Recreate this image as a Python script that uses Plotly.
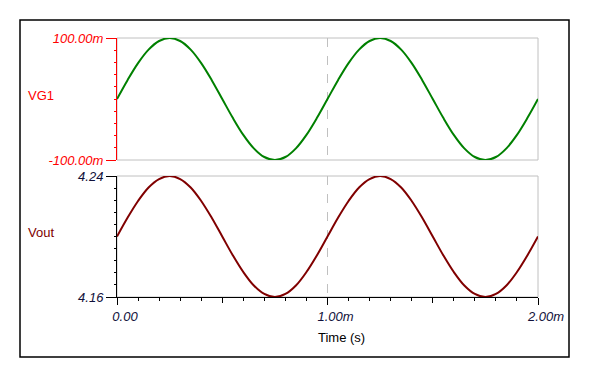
import plotly.graph_objects as go

# ---- data (time in ms, voltages in V) ----
time_ms = [0.00, 0.05, 0.10, 0.15, 0.20, 0.25, 0.30, 0.35, 0.40, 0.45,
           0.50, 0.55, 0.60, 0.65, 0.70, 0.75, 0.80, 0.85, 0.90, 0.95,
           1.00, 1.05, 1.10, 1.15, 1.20, 1.25, 1.30, 1.35, 1.40, 1.45,
           1.50, 1.55, 1.60, 1.65, 1.70, 1.75, 1.80, 1.85, 1.90, 1.95, 2.00]
vg1 = [0.0000, 0.0309, 0.0588, 0.0809, 0.0951, 0.1000, 0.0951, 0.0809, 0.0588, 0.0309,
       0.0000, -0.0309, -0.0588, -0.0809, -0.0951, -0.1000, -0.0951, -0.0809, -0.0588, -0.0309,
       0.0000, 0.0309, 0.0588, 0.0809, 0.0951, 0.1000, 0.0951, 0.0809, 0.0588, 0.0309,
       0.0000, -0.0309, -0.0588, -0.0809, -0.0951, -0.1000, -0.0951, -0.0809, -0.0588, -0.0309, 0.0000]
vout = [4.2000, 4.2124, 4.2235, 4.2324, 4.2380, 4.2400, 4.2380, 4.2324, 4.2235, 4.2124,
        4.2000, 4.1876, 4.1765, 4.1676, 4.1620, 4.1600, 4.1620, 4.1676, 4.1765, 4.1876,
        4.2000, 4.2124, 4.2235, 4.2324, 4.2380, 4.2400, 4.2380, 4.2324, 4.2235, 4.2124,
        4.2000, 4.1876, 4.1765, 4.1676, 4.1620, 4.1600, 4.1620, 4.1676, 4.1765, 4.1876, 4.2000]

x_tickvals = [0.0, 1.0, 2.0]
x_ticktext = ["0.00", "1.00m", "2.00m"]
x_midticks = [0.5, 1.5]
vg1_tickvals = [-0.1, 0.1]
vg1_ticktext = ["-100.00m", "100.00m"]
vout_tickvals = [4.16, 4.24]
vout_ticktext = ["4.16", "4.24"]

W, H = 590, 378
FONT = "Liberation Sans, Arial, sans-serif"
TICKC = "#10103a"
GRAY = "#c0c0c0"
FS = 13

def px_x(p):
    return p / W

def px_y(p):
    return 1 - p / H

fig = go.Figure()
fig.add_trace(go.Scatter(x=time_ms, y=vg1, mode="lines", line=dict(color="#008000", width=2, shape="spline"),
                         xaxis="x", yaxis="y", showlegend=False))
fig.add_trace(go.Scatter(x=time_ms, y=vout, mode="lines", line=dict(color="#800000", width=2, shape="spline"),
                         xaxis="x2", yaxis="y2", showlegend=False))
fig.add_trace(go.Scatter(x=[], y=[], xaxis="x3", yaxis="y2", showlegend=False, hoverinfo="skip"))

xdom = [px_x(117), px_x(538)]
fig.update_layout(
    width=W, height=H, margin=dict(l=0, r=0, t=0, b=0),
    paper_bgcolor="white", plot_bgcolor="white", template="none",
    font=dict(family=FONT, size=FS, color="black"),
    xaxis=dict(domain=xdom, anchor="y", range=[0, 2], showticklabels=False, ticks="",
               showline=False, zeroline=False, showgrid=True, tickmode="array", tickvals=[1.0],
               gridcolor=GRAY, griddash="dash", gridwidth=1, automargin=False),
    yaxis=dict(domain=[px_y(160), px_y(38)], anchor="x", range=[-0.1, 0.1],
               showline=True, linecolor="#ff0000", linewidth=1, zeroline=False, showgrid=False,
               ticks="outside", ticklen=10, tickcolor="#ff0000", tickwidth=1,
               tickmode="array", tickvals=vg1_tickvals, ticktext=vg1_ticktext,
               tickfont=dict(family=FONT, size=FS, color="#ff0000", style="italic"),
               ticklabelstandoff=0,
               minor=dict(ticks="outside", ticklen=2, tickcolor="#ff0000", tickmode="linear",
                          tick0=-0.1, dtick=0.02, showgrid=False),
               automargin=False),
    xaxis2=dict(domain=xdom, anchor="y2", range=[0, 2],
                showline=True, linecolor="black", linewidth=1, zeroline=False,
                showgrid=True, gridcolor=GRAY, griddash="dash", gridwidth=1,
                ticks="outside", ticklen=7, tickcolor="black",
                tickmode="array", tickvals=x_tickvals, ticktext=x_ticktext,
                tickfont=dict(family=FONT, size=FS, color=TICKC, style="italic"),
                ticklabelshift=8,
                minor=dict(ticks="outside", ticklen=3, tickcolor="black", tickmode="linear",
                           tick0=0, dtick=0.1, showgrid=False),
                automargin=False),
    xaxis3=dict(overlaying="x2", anchor="y2", range=[0, 2], showline=False, zeroline=False,
                showgrid=False, ticks="outside", ticklen=5, tickcolor="black",
                tickmode="array", tickvals=x_midticks, showticklabels=False, automargin=False),
    yaxis2=dict(domain=[px_y(297), px_y(176)], anchor="x2", range=[4.16, 4.24],
                showline=True, linecolor="black", linewidth=1, zeroline=False, showgrid=False,
                ticks="outside", ticklen=10, tickcolor="black",
                tickmode="array", tickvals=vout_tickvals, ticktext=vout_ticktext,
                tickfont=dict(family=FONT, size=FS, color=TICKC, style="italic"),
                ticklabelstandoff=0,
                minor=dict(ticks="outside", ticklen=2, tickcolor="black", tickmode="linear",
                           tick0=4.16, dtick=0.008, showgrid=False),
                automargin=False),
)

shapes = [
    dict(type="rect", xref="paper", yref="paper", x0=px_x(20), x1=px_x(569), y0=px_y(357), y1=px_y(20),
         line=dict(color="black", width=1.5), fillcolor="rgba(0,0,0,0)", layer="below"),
    dict(type="rect", xref="x domain", yref="y domain", x0=0, x1=1, y0=0, y1=1,
         line=dict(color=GRAY, width=1), layer="below"),
    dict(type="rect", xref="x2 domain", yref="y2 domain", x0=0, x1=1, y0=0, y1=1,
         line=dict(color=GRAY, width=1), layer="below"),
]
fig.update_layout(shapes=shapes)

fig.add_annotation(text="VG1", xref="paper", yref="paper", x=px_x(26), y=px_y(95),
                   xanchor="left", yanchor="middle", showarrow=False,
                   font=dict(family=FONT, size=FS, color="#ff0000"))
fig.add_annotation(text="Vout", xref="paper", yref="paper", x=px_x(26), y=px_y(232),
                   xanchor="left", yanchor="middle", showarrow=False,
                   font=dict(family=FONT, size=FS, color="#800000"))
fig.add_annotation(text="Time (s)", xref="paper", yref="paper", x=px_x(341), y=px_y(337),
                   xanchor="center", yanchor="middle", showarrow=False,
                   font=dict(family=FONT, size=FS, color="black"))

fig.write_html("out.html", config={"displayModeBar": False},
               post_script="document.body.style.margin='0';document.body.style.overflow='hidden';")
